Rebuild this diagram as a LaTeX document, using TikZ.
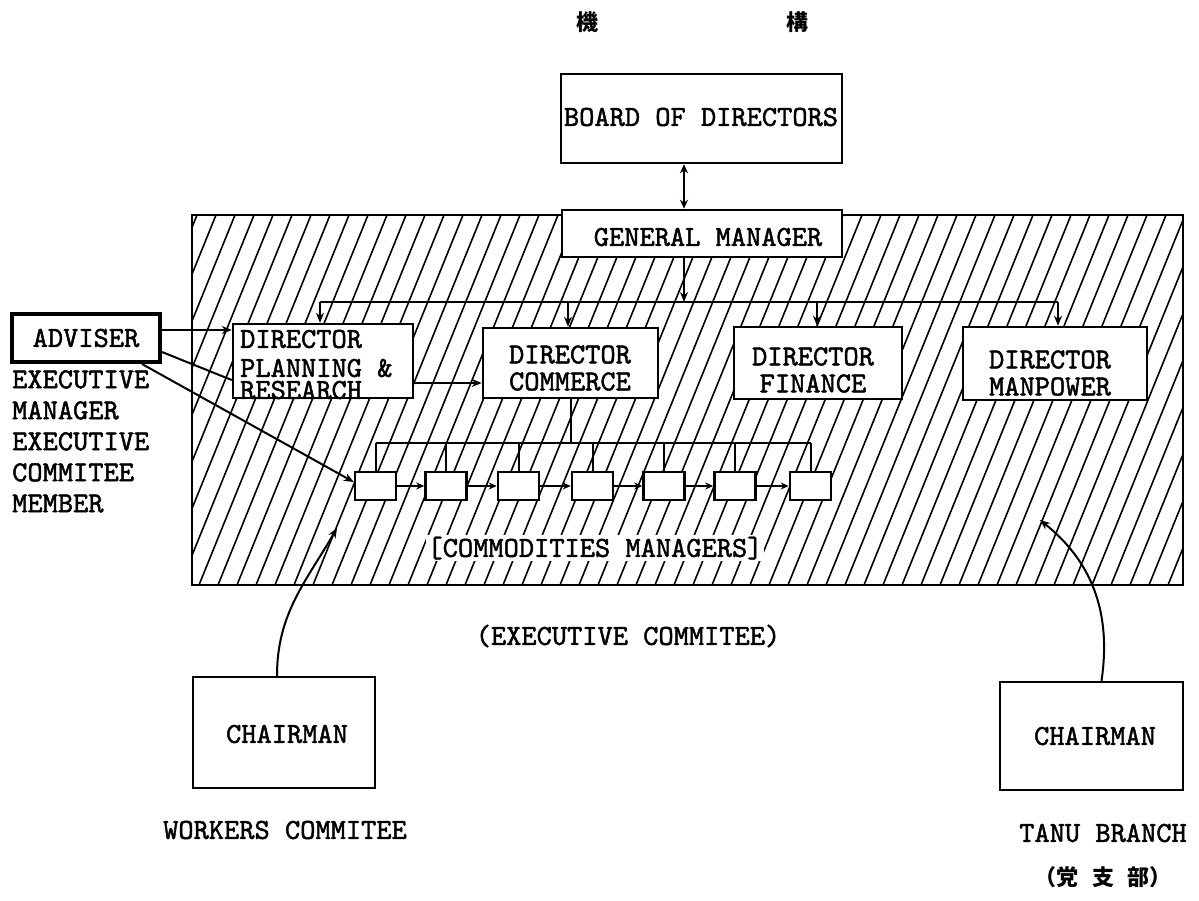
\documentclass[tikz,border=0pt]{standalone}
\usepackage{fontspec}
\newfontfamily\cjk{Noto Sans CJK JP}
\newfontfamily\tw[Extension=.otf,FakeBold=1.6]{lmmono10-regular}
\usetikzlibrary{arrows.meta}
\begin{document}
\begin{tikzpicture}[x=1pt,y=-1pt,
  txt/.style={font=\tw\bfseries\fontsize{29}{31}\selectfont, inner sep=0pt},
  cjktxt/.style={font=\cjk\bfseries\fontsize{22}{26}\selectfont, inner sep=0pt},
  box/.style={draw, line width=2.5pt, fill=white, inner sep=0pt},
  arr/.style={line width=2pt, -{Stealth[length=10pt,width=8pt]}},
  sarr/.style={line width=2pt, -{Stealth[length=8pt,width=7pt]}},
  darr/.style={line width=2pt, {Stealth[length=9pt,width=8pt]}-{Stealth[length=9pt,width=8pt]}},
  ln/.style={line width=2pt},
]
\useasboundingbox[fill=white] (0,0) rectangle (1199,900);

% title
\node[cjktxt] (t1) at (587,22) {機};
\node[cjktxt] (t2) at (797,22) {構};

% hatching
\begin{scope}
\clip (192,215) rectangle (1183,585);
\foreach \x in {-200,-181,...,1200} \draw[line width=1.6pt] (\x,585) -- (\x+150,215);
\end{scope}
\node[draw, line width=2.5pt, minimum width=991, minimum height=370, inner sep=0pt] (exec) at (687.5,400) {};

% board and GM
\node[box, minimum width=281, minimum height=89] (board) at (701.5,118.5) {};
\node[txt] (boardt) at (701,117) {BOARD OF DIRECTORS};
\node[box, minimum width=280, minimum height=47] (gm) at (702,233.5) {};
\node[txt] (gmt) at (708,237) {GENERAL MANAGER};
\coordinate (cx) at (684,0);
\draw[darr] (board.south -| cx) -- (gm.north -| cx);

% directors
\node[box, minimum width=180, minimum height=74] (plan) at (323,361) {};
\node[txt, anchor=west] (plant1) at (240,339) {DIRECTOR};
\node[txt, anchor=west] (plant2) at (240,368) {PLANNING \&};
\node[txt, anchor=west] (plant3) at (240,390) {RESEARCH};
\node[box, minimum width=175, minimum height=70] (com) at (570.5,363) {};
\node[txt, align=center] (comt) at (570,368) {DIRECTOR\\[-4pt]COMMERCE};
\node[box, minimum width=168, minimum height=72] (fin) at (818,363) {};
\node[txt, align=center] (fint) at (813,370) {DIRECTOR\\[-4pt]FINANCE};
\node[box, minimum width=184, minimum height=73] (man) at (1055,363.5) {};
\node[txt, align=center] (mant) at (1050,373) {DIRECTOR\\[-4pt]MANPOWER};

% bus
\coordinate (b1) at (320,302);
\coordinate (b2) at (568,302);
\coordinate (b3) at (817,302);
\coordinate (b4) at (1058,302);
\draw[arr] (gm.south -| cx) -- (cx |- b1);
\draw[ln] (b1) -- (b4);
\draw[arr] (b1) -- (plan.north -| b1);
\draw[arr] (b2) -- (com.north -| b2);
\draw[arr] (b3) -- (fin.north -| b3);
\draw[arr] (b4) -- (man.north -| b4);

% adviser
\node[draw, line width=4pt, fill=white, minimum width=148, minimum height=48, inner sep=0pt, txt] (adv) at (86,338) {ADVISER};
\draw[arr] ([yshift=8pt]adv.east) coordinate (a1) -- (a1 -| plan.west);
\draw[ln] ([yshift=-14pt]adv.east) -- ([yshift=-19pt]plan.west);
\draw[arr] ([yshift=-22pt]plan.east) coordinate (p1) -- (p1 -| com.west);

% commodity managers
\foreach \i/\x in {1/375.5,2/446,3/518.5,4/592.5,5/664,6/735,7/810.5}
  \node[box, minimum width=41, minimum height=28] (cm\i) at (\x,486) {};
\coordinate (bb) at (0,443);
\draw[ln] (com.south) -- (com.south |- bb);
\draw[ln] (cm1.north |- bb) -- (cm7.north |- bb);
\foreach \i in {1,...,7} \draw[ln] (cm\i.north |- bb) -- (cm\i.north);
\foreach \i/\j in {1/2,2/3,3/4,4/5,5/6,6/7} \draw[sarr] (cm\i.east) -- (cm\j.west);
\draw[arr] ([xshift=-20pt]adv.south east) -- ([yshift=4pt]cm1.west);

\node[txt, fill=white, inner sep=2pt] (cmt) at (595,548) {[COMMODITIES MANAGERS]};

% left text
\node[txt, anchor=north west, align=left] (exm) at (12,370) {EXECUTIVE\\MANAGER\\EXECUTIVE\\COMMITEE\\MEMBER};

\node[txt] (ect) at (628,636) {(EXECUTIVE COMMITEE)};

% chairmen
\node[box, minimum width=182, minimum height=111] (wc) at (284,732.5) {};
\node[txt] (wcn) at (287,734) {CHAIRMAN};
\node[box, minimum width=183, minimum height=108] (tc) at (1091.5,736) {};
\node[txt] (tcn) at (1095,736) {CHAIRMAN};
\coordinate (wtip) at (337,528);
\coordinate (ttip) at (1040,520);
\draw[arr] ([xshift=-7pt]wc.north) to[out=90,in=240] (wtip);
\draw[arr] ([xshift=10pt]tc.north) .. controls (1112,610) and (1090,560) .. (ttip);

\node[txt] (wct) at (285,830) {WORKERS COMMITEE};
\node[txt] (tbt) at (1103,833) {TANU BRANCH};
\node[cjktxt] (tbc) at (1103,877) {（党\hspace{14pt}支\hspace{14pt}部）};
\end{tikzpicture}
\end{document}
